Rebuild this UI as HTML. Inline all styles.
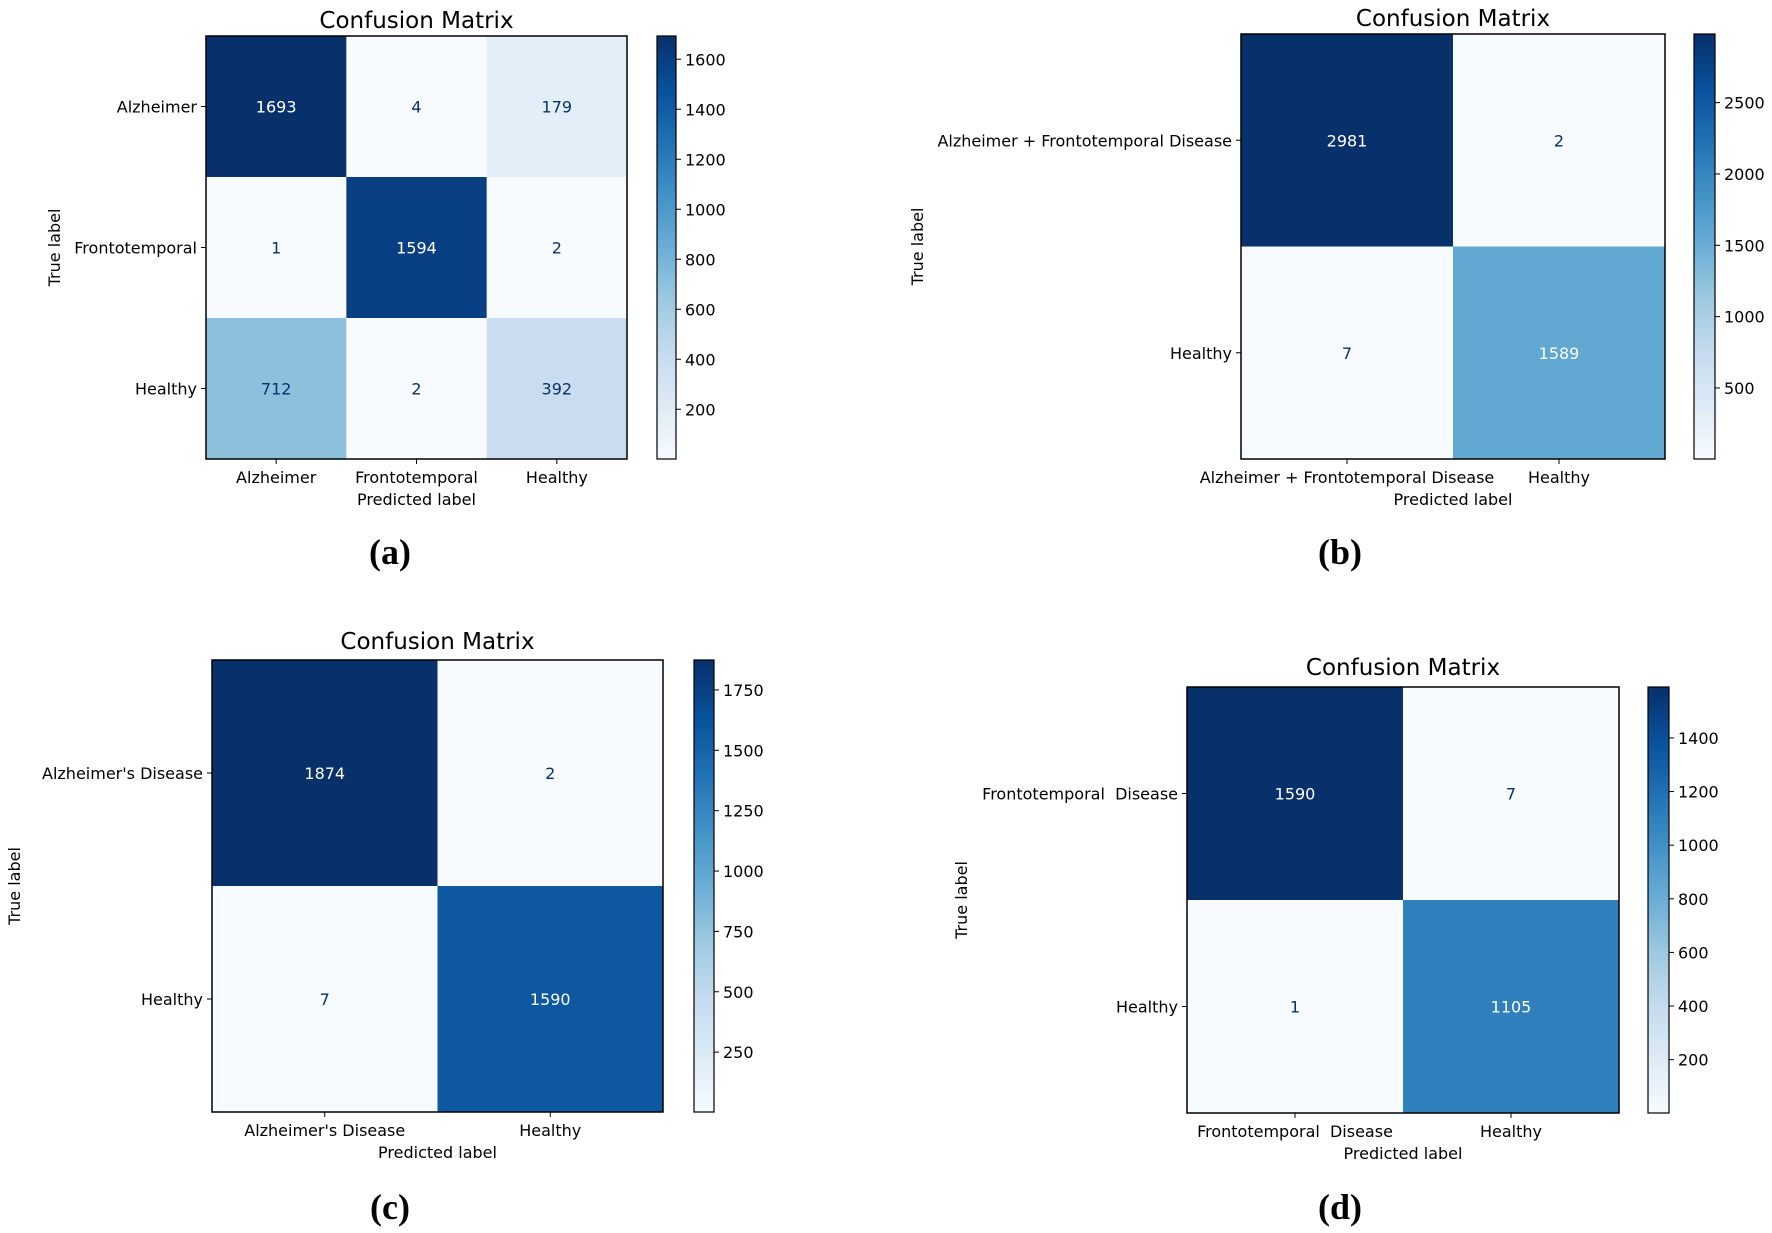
<!DOCTYPE html>
<html><head><meta charset="utf-8">
<style>
html,body{margin:0;padding:0;background:#fff;}
svg{display:block;font-family:"DejaVu Sans","Liberation Sans",sans-serif;}
svg text{white-space:pre;}
</style></head>
<body>
<svg id="fig" width="1772" height="1233" viewBox="0 0 1772 1233" xmlns="http://www.w3.org/2000/svg"></svg>
<script>
// Panel (a)
const aLabels = ["Alzheimer", "Frontotemporal", "Healthy"];
const aValues = [[1693, 4, 179], [1, 1594, 2], [712, 2, 392]];
const aTicks = [200, 400, 600, 800, 1000, 1200, 1400, 1600];
// Panel (b)
const bLabels = ["Alzheimer + Frontotemporal Disease", "Healthy"];
const bValues = [[2981, 2], [7, 1589]];
const bTicks = [500, 1000, 1500, 2000, 2500];
// Panel (c)
const cLabels = ["Alzheimer's Disease", "Healthy"];
const cValues = [[1874, 2], [7, 1590]];
const cTicks = [250, 500, 750, 1000, 1250, 1500, 1750];
// Panel (d)
const dLabels = ["Frontotemporal  Disease", "Healthy"];
const dValues = [[1590, 7], [1, 1105]];
const dTicks = [200, 400, 600, 800, 1000, 1200, 1400];

const NS = "http://www.w3.org/2000/svg";
const svg = document.getElementById("fig");
const stops = ["#f7fbff","#deebf7","#c6dbef","#9ecae1","#6baed6","#4292c6","#2171b5","#08519c","#08306b"];
function hex(h){return [1,3,5].map(i=>parseInt(h.substr(i,2),16));}
function blues(t){
  t=Math.max(0,Math.min(1,t));
  const p=t*(stops.length-1), i=Math.min(Math.floor(p),stops.length-2), f=p-i;
  const a=hex(stops[i]), b=hex(stops[i+1]);
  return "rgb("+a.map((v,k)=>Math.round(v+(b[k]-v)*f)).join(",")+")";
}
function el(tag, attrs, parent){
  const e=document.createElementNS(NS,tag);
  for(const k in attrs) e.setAttribute(k,attrs[k]);
  (parent||svg).appendChild(e);
  return e;
}
function txt(s, attrs, parent){const e=el("text",attrs,parent); e.textContent=s; return e;}

function panel(id, labels, values, ticks, L){
  const g=el("g",{});
  
  
  const n=labels.length;
  const flat=values.flat();
  const vmin=Math.min(...flat), vmax=Math.max(...flat);
  const cw=(L.x1-L.x0)/n, ch=(L.y1-L.y0)/n;
  const xc=j=>L.x0+cw*(j+0.5), yc=i=>L.y0+ch*(i+0.5);
  const t1=txt("Confusion Matrix",{x:(L.x0+L.x1)/2,y:L.y0-8-(L.tdy||0),"text-anchor":"middle","font-size":23,fill:"#000"},g);
  
  
  for(let i=0;i<n;i++)for(let j=0;j<n;j++){
    const v=values[i][j];
    const r=el("rect",{x:L.x0+cw*j,y:L.y0+ch*i,width:cw+0.5,height:ch+0.5,fill:blues((v-vmin)/(vmax-vmin))},g);
    
    
    const t=txt(String(v),{x:xc(j),y:yc(i)+6,"text-anchor":"middle","font-size":16,fill:v>(vmax+vmin)/2?"#fff":"#08306b"},g);
    
    
  }
  el("rect",{x:L.x0,y:L.y0,width:L.x1-L.x0,height:L.y1-L.y0,fill:"none",stroke:"#000","stroke-width":1.5},g);
  for(let k=0;k<n;k++){
    el("line",{x1:L.x0,x2:L.x0-5,y1:yc(k),y2:yc(k),stroke:"#000"},g);
    const yl=txt(labels[k],{x:L.x0-9,y:yc(k)+6,"text-anchor":"end","font-size":16,fill:"#000"},g);
    
    
    el("line",{x1:xc(k),x2:xc(k),y1:L.y1,y2:L.y1+5,stroke:"#000"},g);
    const xl=txt(labels[k],{x:xc(k),y:L.y1+24,"text-anchor":"middle","font-size":16,fill:"#000"},g);
    
    
  }
  const px=txt("Predicted label",{x:(L.x0+L.x1)/2,y:L.y1+46,"text-anchor":"middle","font-size":16,fill:"#000"},g);
  
  
  const ty=txt("True label",{x:0,y:0,"text-anchor":"middle","font-size":16,fill:"#000",transform:"translate("+(L.tx+5)+","+((L.y0+L.y1)/2)+") rotate(-90)"},g);
  
  
  // colorbar
  const N=100, H=L.y1-L.y0;
  for(let s=0;s<N;s++){
    el("rect",{x:L.cx0,y:L.y1-H*(s+1)/N,width:L.cx1-L.cx0,height:H/N+0.6,fill:blues((s+0.5)/N)},g);
  }
  const cb=el("rect",{x:L.cx0,y:L.y0,width:L.cx1-L.cx0,height:H,fill:"none",stroke:"#000","stroke-width":1.2},g);
  
  
  ticks.forEach(tv=>{
    const y=L.y1-(tv-vmin)/(vmax-vmin)*H;
    el("line",{x1:L.cx1,x2:L.cx1+5,y1:y,y2:y,stroke:"#000"},g);
    const ct=txt(String(tv),{x:L.cx1+9,y:y+6,"font-size":16,fill:"#000"},g);
    
    
  });
  const cap=txt("("+id+")",{x:L.capx,y:L.capy+13,"text-anchor":"middle","font-size":36,"font-weight":"bold","font-family":"Liberation Serif, serif",fill:"#000"},g);
  
  
}
panel("a",aLabels,aValues,aTicks,{x0:206,x1:627,y0:36,y1:459,cx0:657,cx1:676,tx:55,capx:390,capy:551});
panel("b",bLabels,bValues,bTicks,{x0:1241,x1:1665,y0:34,y1:459,cx0:1694,cx1:1715,tx:918,capx:1340,capy:551});
panel("c",cLabels,cValues,cTicks,{x0:212,x1:663,y0:660,y1:1112,cx0:694,cx1:714,tx:15,capx:390,capy:1206,tdy:3});
panel("d",dLabels,dValues,dTicks,{x0:1187,x1:1619,y0:687,y1:1113,cx0:1648,cx1:1669,tx:962,capx:1340,capy:1206,tdy:4});
</script>
</body></html>
